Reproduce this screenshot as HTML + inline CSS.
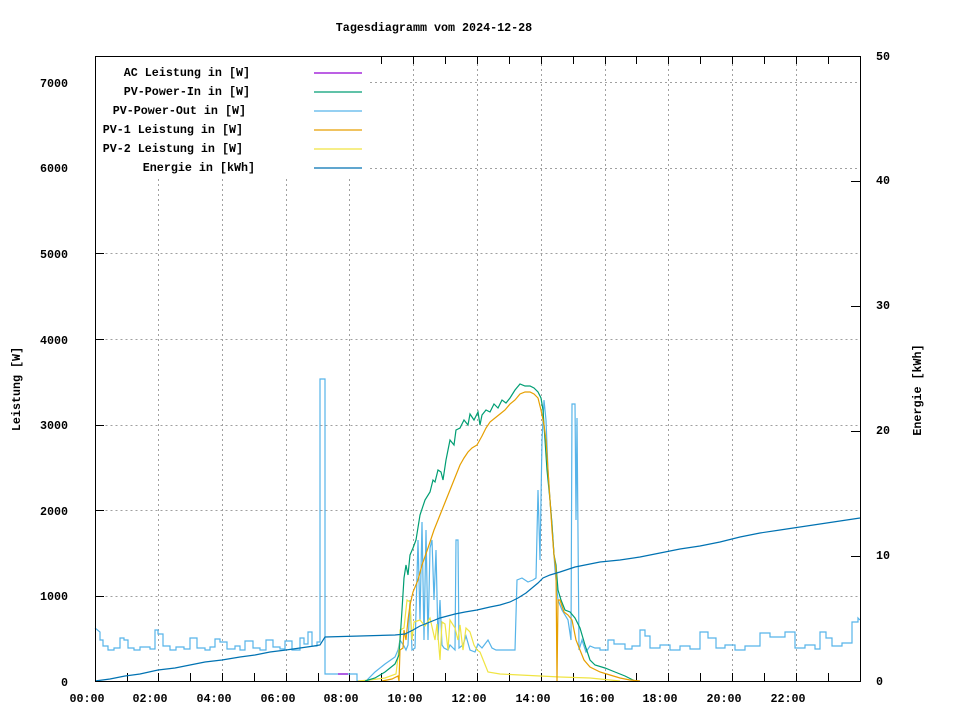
<!DOCTYPE html>
<html><head><meta charset="utf-8"><style>
html,body{margin:0;padding:0;background:#fff;}
svg{display:block;}
text{font-family:"Liberation Mono",monospace;font-size:11.7px;font-weight:bold;fill:#000;}
</style></head><body>
<svg width="960" height="720" viewBox="0 0 960 720" xmlns="http://www.w3.org/2000/svg">
<rect width="960" height="720" fill="#fff"/>
<g stroke="#a0a0a0" stroke-width="1" stroke-dasharray="2,3" fill="none">
<path d="M95.5 596.5H860M95.5 510.5H860M95.5 425.5H860M95.5 339.5H860M95.5 253.5H860M370 168.5H860M370 82.5H860"/>
<path d="M158.5 681V178M222.5 681V178M286.5 681V178M349.5 681V178M413.5 681V56M477.5 681V56M541.5 681V56M605.5 681V56M668.5 681V56M732.5 681V56M796.5 681V56"/>
</g>
<text x="434" y="31" text-anchor="middle">Tagesdiagramm vom 2024-12-28</text>
<g text-anchor="end">
<text x="68" y="686">0</text><text x="68" y="600">1000</text><text x="68" y="515">2000</text><text x="68" y="429">3000</text><text x="68" y="344">4000</text><text x="68" y="258">5000</text><text x="68" y="172">6000</text><text x="68" y="87">7000</text>
</g>
<g>
<text x="876" y="685">0</text><text x="876" y="559">10</text><text x="876" y="434">20</text><text x="876" y="309">30</text><text x="876" y="184">40</text><text x="876" y="60">50</text>
</g>
<g text-anchor="middle">
<text x="87" y="702">00:00</text><text x="150" y="702">02:00</text><text x="214" y="702">04:00</text><text x="278" y="702">06:00</text><text x="341" y="702">08:00</text><text x="405" y="702">10:00</text><text x="469" y="702">12:00</text><text x="533" y="702">14:00</text><text x="597" y="702">16:00</text><text x="660" y="702">18:00</text><text x="724" y="702">20:00</text><text x="788" y="702">22:00</text>
</g>
<text transform="translate(20,389) rotate(-90)" text-anchor="middle">Leistung [W]</text>
<text transform="translate(921,390) rotate(-90)" text-anchor="middle">Energie [kWh]</text>
<path stroke="#000" stroke-width="1" fill="none" d="M95.5 681V673M127.5 681V673M158.5 681V673M190.5 681V673M222.5 681V673M254.5 681V673M286.5 681V673M318.5 681V673M349.5 681V673M381.5 681V673M413.5 681V673M445.5 681V673M477.5 681V673M509.5 681V673M541.5 681V673M573.5 681V673M605.5 681V673M636.5 681V673M668.5 681V673M700.5 681V673M732.5 681V673M764.5 681V673M796.5 681V673M828.5 681V673M127.5 56V64M158.5 56V64M190.5 56V64M222.5 56V64M254.5 56V64M286.5 56V64M318.5 56V64M349.5 56V64M381.5 56V64M413.5 56V64M445.5 56V64M477.5 56V64M509.5 56V64M541.5 56V64M573.5 56V64M605.5 56V64M636.5 56V64M668.5 56V64M700.5 56V64M732.5 56V64M764.5 56V64M796.5 56V64M828.5 56V64M95 596.5H104M95 510.5H104M95 425.5H104M95 339.5H104M95 253.5H104M95 168.5H104M95 82.5H104M860 556.5H851M860 431.5H851M860 306.5H851M860 181.5H851"/>
<g fill="none" stroke-width="1.2" stroke-linejoin="miter">
<path stroke="#56b4e9" d="M95 628 L100 632 L100 640 L103 640 L103 646 L108 646 L108 650 L114 650 L114 648 L120 648 L120 638 L124 638 L124 640 L128 640 L128 648 L134 648 L134 650 L140 650 L140 647 L150 647 L150 649 L155 649 L155 630 L158 630 L158 634 L163 634 L163 646 L170 646 L170 650 L176 650 L176 647 L184 647 L184 649 L190 649 L190 638 L197 638 L197 648 L205 648 L205 650 L210 650 L210 647 L215 647 L215 639 L220 639 L220 642 L227 642 L227 649 L235 649 L235 646 L240 646 L240 650 L245 650 L245 641 L253 641 L253 648 L260 648 L260 650 L266 650 L266 640 L273 640 L273 647 L280 647 L280 649 L285 649 L285 641 L292 641 L292 650 L300 650 L300 638 L304 638 L304 644 L308 644 L308 632 L312 632 L312 646 L317 646 L317 642 L320 642 L320 379 L325 379 L325 674 L357 674 L357 681 L366 681 L375 672 L385 664 L395 657 L398 650 L400 640 L404 646 L406 650 L408 645 L410 600 L412 650 L415 648 L418 540 L420 620 L422 522 L424 640 L426 530 L428 640 L430 548 L432 540 L434 600 L436 550 L438 640 L440 600 L442 645 L444 648 L448 650 L450 645 L455 650 L456 540 L458 540 L459 648 L463 645 L466 636 L470 650 L475 652 L478 644 L482 648 L488 640 L492 648 L496 650 L505 650 L515 650 L517 580 L522 578 L528 582 L533 580 L536 578 L538 490 L540 560 L542 440 L544 400 L546 420 L548 470 L550 500 L552 525 L555 570 L558 600 L562 610 L568 620 L571 640 L572 404 L575 404 L576 520 L577 418 L579 650 L582 640 L586 652 L590 646 L595 648 L600 648 L600 650 L608 650 L608 640 L614 640 L614 644 L625 644 L625 649 L632 649 L632 646 L640 646 L640 630 L645 630 L645 636 L650 636 L650 648 L660 648 L660 645 L670 645 L670 650 L680 650 L680 646 L690 646 L690 649 L700 649 L700 632 L708 632 L708 638 L716 638 L716 648 L725 648 L725 645 L735 645 L735 650 L745 650 L745 646 L760 646 L760 633 L770 633 L770 637 L785 637 L785 632 L795 632 L795 648 L805 648 L805 645 L815 645 L815 649 L820 649 L820 632 L826 632 L826 638 L832 638 L832 646 L842 646 L842 643 L852 643 L852 622 L858 622 L858 618 L860 620"/>
<polyline stroke="#f0e442" points="358,681 370,680 385,678 396,674 400,640 400,630 404,628 407,600 410,602 412,640 414,622 420,620 425,626 430,618 435,640 437,624 440,660 442,622 445,624 448,650 450,620 455,628 458,640 460,625 463,650 466,628 470,632 474,645 477,650 480,652 484,662 488,672 500,674 520,675 540,676 560,677 590,678 610,680 620,681"/>
<polyline stroke="#009e73" points="365,681 375,678 385,672 395,664 399,655 400,640 402,610 404,578 406,565 408,575 410,555 413,548 416,540 420,515 425,500 430,492 433,480 435,482 438,470 441,472 443,480 446,460 450,440 454,445 456,430 460,428 464,420 468,425 470,414 474,420 478,412 480,425 482,415 486,410 490,412 494,404 498,408 502,400 506,403 510,398 515,390 520,384 525,386 530,386 534,388 538,392 541,398 543,410 545,440 547,470 550,500 552,525 554,555 556,565 558,590 561,600 565,610 570,612 575,618 580,628 585,645 590,660 595,665 605,668 615,672 625,676 635,681"/>
<polyline stroke="#e69f00" points="382,681 392,679 398,676 399,681 400,650 403,648 404,630 406,640 408,620 410,605 413,592 418,580 422,565 428,548 434,530 440,515 444,505 448,495 452,485 456,475 460,465 464,458 468,452 472,448 477,445 482,436 486,428 490,422 495,418 500,414 505,410 510,404 515,400 520,394 525,392 530,392 534,394 538,398 541,410 544,425 546,440 548,470 550,500 552,530 554,555 556,570 557,681 558,600 560,600 564,612 568,615 572,620 576,640 580,650 584,660 590,667 600,672 610,675 620,678 630,680 640,681"/>
<polyline stroke="#9400d3" points="338,674 348,674"/>
<polyline stroke="#0072b2" points="95,681 110,679 125,676 140,674 158,670 175,668 190,665 205,662 222,660 240,657 255,655 270,652 286,650 300,648 314,646 320,645 325,637 360,636 395,635 405,634 413,630 420,626 430,622 440,618 455,614 465,612 477,610 490,607 500,605 510,602 518,598 526,593 532,588 538,583 543,578 550,575 560,572 575,567 590,564 600,562 620,560 640,557 660,553 680,549 700,546 720,542 740,537 760,533 780,530 800,527 820,524 840,521 860,518"/>
</g>
<rect x="95" y="56" width="275" height="122" fill="#fff"/>
<rect x="95.5" y="56.5" width="765" height="625" fill="none" stroke="#000" stroke-width="1"/>
<g text-anchor="end">
<text x="250" y="76">AC Leistung in [W]</text>
<text x="250" y="95">PV-Power-In in [W]</text>
<text x="246" y="114">PV-Power-Out in [W]</text>
<text x="243" y="133">PV-1 Leistung in [W]</text>
<text x="243" y="152">PV-2 Leistung in [W]</text>
<text x="255" y="171">Energie in [kWh]</text>
</g>
<g stroke-width="1.2">
<line x1="314" y1="73" x2="362" y2="73" stroke="#9400d3"/>
<line x1="314" y1="92" x2="362" y2="92" stroke="#009e73"/>
<line x1="314" y1="111" x2="362" y2="111" stroke="#56b4e9"/>
<line x1="314" y1="130" x2="362" y2="130" stroke="#e69f00"/>
<line x1="314" y1="149" x2="362" y2="149" stroke="#f0e442"/>
<line x1="314" y1="168" x2="362" y2="168" stroke="#0072b2"/>
</g>
</svg>
</body></html>
